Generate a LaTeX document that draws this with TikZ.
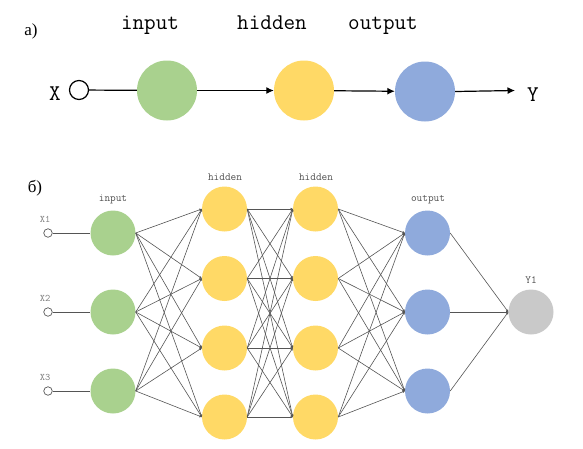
\documentclass[tikz,border=0pt]{standalone}
\usepackage{fontspec}
\setmainfont{Liberation Serif}
\usetikzlibrary{arrows.meta}
\definecolor{cgreen}{HTML}{A9D18E}
\definecolor{cyellow}{HTML}{FFD966}
\definecolor{cblue}{HTML}{8FAADC}
\definecolor{cgray}{HTML}{C9C9C9}
\definecolor{cline}{HTML}{555555}
\definecolor{ctext}{HTML}{505050}
\begin{document}
\begin{tikzpicture}[x=1pt,y=-1pt,
  bigneuron/.style={circle,inner sep=0pt,minimum size=60pt},
  neuron/.style={circle,inner sep=0pt,minimum size=45pt},
  bigtxt/.style={anchor=base,inner sep=0pt,font=\ttfamily\fontsize{22.5}{22.5}\selectfont},
  smalltxt/.style={anchor=base,inner sep=0pt,text=ctext,font=\ttfamily\fontsize{11}{11}\selectfont},
  partlbl/.style={anchor=base,inner sep=0pt,font=\fontsize{17}{17}\selectfont},
  bigconn/.style={line width=1.2pt,black},
  bigarrow/.style={bigconn,-{Latex[length=7.5pt,width=7pt]}},
  conn/.style={line width=0.6pt,cline,-{Latex[length=2.6pt,width=2.6pt]},shorten >=-0.3pt},
  plainconn/.style={line width=0.8pt,cline},
  inport/.style={circle,draw=cline,line width=0.7pt,fill=white,inner sep=0pt,minimum size=8.5pt},
]
\useasboundingbox (0,0) rectangle (583,448);

% ---------- part a ----------
\node[partlbl] (la) at (31,35) {а)};
\node[bigtxt] (ta1) at (150,29) {input};
\node[bigtxt] (ta2) at (272,29) {hidden};
\node[bigtxt] (ta3) at (383,29) {output};
\node[bigtxt] (tx) at (55,100) {X};
\node[bigtxt] (ty) at (533,101) {Y};
\node[circle,draw=black,line width=1.2pt,fill=white,inner sep=0pt,minimum size=19pt] (ax) at (79,90) {};
\node[bigneuron,fill=cgreen] (ai) at (167,90.5) {};
\node[bigneuron,fill=cyellow] (ah) at (304,90.5) {};
\node[bigneuron,fill=cblue] (ao) at (425,91.5) {};
\coordinate (aend) at (515,90.5);
\draw[bigconn] (ax) -- (ai);
\draw[bigarrow] (ai) -- (ah);
\draw[bigarrow] (ah) -- (ao);
\draw[bigarrow] (ao.east) -- (aend);

% ---------- part b ----------
\node[partlbl] (lb) at (35,192) {б)};
\node[smalltxt] (tb1) at (113,201) {input};
\node[smalltxt] (tb2) at (225,180) {hidden};
\node[smalltxt] (tb3) at (316,180) {hidden};
\node[smalltxt] (tb4) at (428,201) {output};
\node[smalltxt] (tb5) at (531,283) {Y1};

\foreach \i/\y in {1/233,2/312,3/391}{
  \node[neuron,fill=cgreen] (i\i) at (113,\y) {};
  \node[neuron,fill=cblue] (o\i) at (427.5,\y) {};
  \node[inport] (x\i) at (48,\y) {};
  \node[smalltxt,font=\ttfamily\fontsize{10}{10}\selectfont,text=gray] (tx\i) at (45,\y-10.5) {X\i};
  \draw[plainconn] (x\i) -- (i\i.west);
}
\foreach \j/\y in {1/209,2/278.5,3/348,4/417}{
  \node[neuron,fill=cyellow] (h\j) at (224.5,\y) {};
  \node[neuron,fill=cyellow] (g\j) at (315.5,\y) {};
}
\node[neuron,fill=cgray] (yy) at (531,312) {};

\foreach \i in {1,2,3}{
  \foreach \j in {1,2,3,4}{
    \draw[conn] (i\i.east) -- (h\j.west);
    \draw[conn] (g\j.east) -- (o\i.west);
  }
  \draw[conn] (o\i.east) -- (yy.west);
}
\foreach \a in {1,2,3,4}{
  \foreach \b in {1,2,3,4}{
    \draw[conn] (h\a.east) -- (g\b.west);
  }
}
\end{tikzpicture}
\end{document}
